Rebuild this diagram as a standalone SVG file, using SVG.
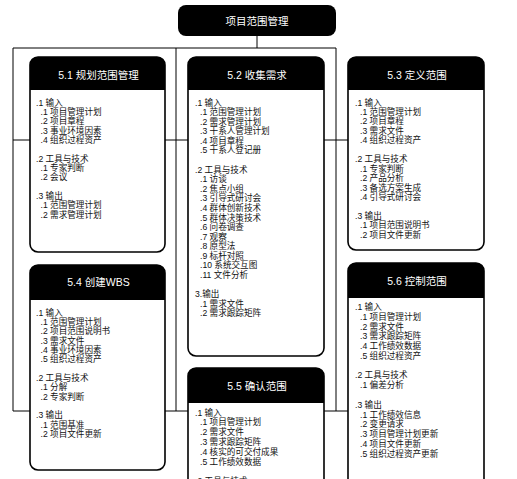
<svg xmlns="http://www.w3.org/2000/svg" width="517" height="479" viewBox="0 0 517 479">
<style>
.box{fill:#fff;stroke:#000;stroke-width:1.6}
.hdr{fill:#000}
.ttl{font-family:"Liberation Sans","Noto Sans CJK SC",sans-serif;font-size:10.5px;fill:#fff;text-anchor:middle}
.bd{font-family:"Liberation Sans","Noto Sans CJK SC",sans-serif;font-size:8.6px;fill:#111}
.conn{fill:none;stroke:#000;stroke-width:1}
</style>
<rect width="517" height="479" fill="#fff"/>
<g id="connectors">
<path class="conn" d="M257,36 V48 M13,48 H336 M13,48 V411 M176,48 V411 M336,48 V411 M13,140 H348 M13,411 H348"/>
</g>
<g id="root">
<rect x="178" y="5" width="158" height="31" rx="8" fill="#000"/>
<text class="ttl" x="257" y="24.7">项目范围管理</text>
</g>
<g id="p51">
<rect class="box" x="30" y="57" width="135" height="195" rx="8"/>
<path class="hdr" d="M30,90 V65 A8,8 0 0 1 38,57 H157 A8,8 0 0 1 165,65 V90 Z"/>
<text class="ttl" x="98.5" y="78.8">5.1 规划范围管理</text>
<text class="bd" x="36" y="105.5">.1 输入</text>
<text class="bd" x="40.5" y="114.85">.1 项目管理计划</text>
<text class="bd" x="40.5" y="124.2">.2 项目章程</text>
<text class="bd" x="40.5" y="133.55">.3 事业环境因素</text>
<text class="bd" x="40.5" y="142.9">.4 组织过程资产</text>
<text class="bd" x="36" y="161.6">.2 工具与技术</text>
<text class="bd" x="40.5" y="170.95">.1 专家判断</text>
<text class="bd" x="40.5" y="180.3">.2 会议</text>
<text class="bd" x="36" y="199">.3 输出</text>
<text class="bd" x="40.5" y="208.35">.1 范围管理计划</text>
<text class="bd" x="40.5" y="217.7">.2 需求管理计划</text>
</g>
<g id="p52">
<rect class="box" x="188" y="57" width="136" height="299" rx="8"/>
<path class="hdr" d="M188,90 V65 A8,8 0 0 1 196,57 H316 A8,8 0 0 1 324,65 V90 Z"/>
<text class="ttl" x="257" y="78.8">5.2 收集需求</text>
<text class="bd" x="195" y="105.5">.1 输入</text>
<text class="bd" x="200" y="115.1">.1 范围管理计划</text>
<text class="bd" x="200" y="124.7">.2 需求管理计划</text>
<text class="bd" x="200" y="134.3">.3 干系人管理计划</text>
<text class="bd" x="200" y="143.8">.4 项目章程</text>
<text class="bd" x="200" y="153.4">.5 干系人登记册</text>
<text class="bd" x="195" y="172.6">.2 工具与技术</text>
<text class="bd" x="200" y="182.2">.1 访谈</text>
<text class="bd" x="200" y="191.7">.2 焦点小组</text>
<text class="bd" x="200" y="201.3">.3 引导式研讨会</text>
<text class="bd" x="200" y="210.9">.4 群体创新技术</text>
<text class="bd" x="200" y="220.5">.5 群体决策技术</text>
<text class="bd" x="200" y="230.1">.6 问卷调查</text>
<text class="bd" x="200" y="239.6">.7 观察</text>
<text class="bd" x="200" y="249.2">.8 原型法</text>
<text class="bd" x="200" y="258.8">.9 标杆对照</text>
<text class="bd" x="200" y="268.4">.10 系统交互图</text>
<text class="bd" x="200" y="278">.11 文件分析</text>
<text class="bd" x="195" y="297.2">3.输出</text>
<text class="bd" x="200" y="306.8">.1 需求文件</text>
<text class="bd" x="200" y="316.4">.2 需求跟踪矩阵</text>
</g>
<g id="p53">
<rect class="box" x="348" y="57" width="136" height="193" rx="8"/>
<path class="hdr" d="M348,90 V65 A8,8 0 0 1 356,57 H476 A8,8 0 0 1 484,65 V90 Z"/>
<text class="ttl" x="417" y="78.8">5.3 定义范围</text>
<text class="bd" x="355" y="105.5">.1 输入</text>
<text class="bd" x="360" y="114.95">.1 范围管理计划</text>
<text class="bd" x="360" y="124.4">.2 项目章程</text>
<text class="bd" x="360" y="133.85">.3 需求文件</text>
<text class="bd" x="360" y="143.3">.4 组织过程资产</text>
<text class="bd" x="355" y="162.2">.2 工具与技术</text>
<text class="bd" x="360" y="171.65">.1 专家判断</text>
<text class="bd" x="360" y="181.1">.2 产品分析</text>
<text class="bd" x="360" y="190.55">.3 备选方案生成</text>
<text class="bd" x="360" y="200">.4 引导式研讨会</text>
<text class="bd" x="355" y="218.9">.3 输出</text>
<text class="bd" x="360" y="228.35">.1 项目范围说明书</text>
<text class="bd" x="360" y="237.8">.2 项目文件更新</text>
</g>
<g id="p54">
<rect class="box" x="30" y="265" width="135" height="205" rx="8"/>
<path class="hdr" d="M30,300 V273 A8,8 0 0 1 38,265 H157 A8,8 0 0 1 165,273 V300 Z"/>
<text class="ttl" x="98.5" y="285.5">5.4 创建WBS</text>
<text class="bd" x="36" y="315.5">.1 输入</text>
<text class="bd" x="40.5" y="324.85">.1 范围管理计划</text>
<text class="bd" x="40.5" y="334.2">.2 项目范围说明书</text>
<text class="bd" x="40.5" y="343.55">.3 需求文件</text>
<text class="bd" x="40.5" y="352.9">.4 事业环境因素</text>
<text class="bd" x="40.5" y="362.25">.5 组织过程资产</text>
<text class="bd" x="36" y="380.95">.2 工具与技术</text>
<text class="bd" x="40.5" y="390.3">.1 分解</text>
<text class="bd" x="40.5" y="399.65">.2 专家判断</text>
<text class="bd" x="36" y="418.35">.3 输出</text>
<text class="bd" x="40.5" y="427.7">.1 范围基准</text>
<text class="bd" x="40.5" y="437.05">.2 项目文件更新</text>
</g>
<g id="p55">
<rect class="box" x="188" y="368" width="136" height="130" rx="8"/>
<path class="hdr" d="M188,403 V376 A8,8 0 0 1 196,368 H316 A8,8 0 0 1 324,376 V403 Z"/>
<text class="ttl" x="257" y="389.5">5.5 确认范围</text>
<text class="bd" x="195" y="415.5">.1 输入</text>
<text class="bd" x="200" y="425.4">.1 项目管理计划</text>
<text class="bd" x="200" y="435.3">.2 需求文件</text>
<text class="bd" x="200" y="445.1">.3 需求跟踪矩阵</text>
<text class="bd" x="200" y="455">.4 核实的可交付成果</text>
<text class="bd" x="200" y="464.9">.5 工作绩效数据</text>
<text class="bd" x="195" y="484">.2 工具与技术</text>
</g>
<g id="p56">
<rect class="box" x="348" y="263" width="136" height="235" rx="8"/>
<path class="hdr" d="M348,298 V271 A8,8 0 0 1 356,263 H476 A8,8 0 0 1 484,271 V298 Z"/>
<text class="ttl" x="417" y="284.5">5.6 控制范围</text>
<text class="bd" x="355" y="309.9">.1 输入</text>
<text class="bd" x="360" y="319.7">.1 项目管理计划</text>
<text class="bd" x="360" y="329.5">.2 需求文件</text>
<text class="bd" x="360" y="339.2">.3 需求跟踪矩阵</text>
<text class="bd" x="360" y="349">.4 工作绩效数据</text>
<text class="bd" x="360" y="358.8">.5 组织过程资产</text>
<text class="bd" x="355" y="378.4">.2 工具与技术</text>
<text class="bd" x="360" y="388.1">.1 偏差分析</text>
<text class="bd" x="355" y="407.7">.3 输出</text>
<text class="bd" x="360" y="417.5">.1 工作绩效信息</text>
<text class="bd" x="360" y="427.2">.2 变更请求</text>
<text class="bd" x="360" y="437">.3 项目管理计划更新</text>
<text class="bd" x="360" y="446.8">.4 项目文件更新</text>
<text class="bd" x="360" y="456.6">.5 组织过程资产更新</text>
</g>
</svg>
